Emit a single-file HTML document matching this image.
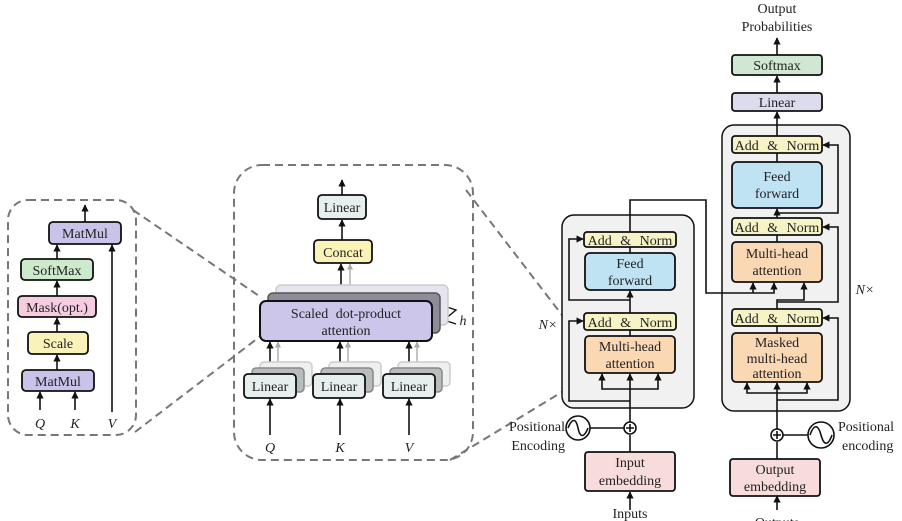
<!DOCTYPE html>
<html><head><meta charset="utf-8"><style>
html,body{margin:0;padding:0;background:#fff;width:902px;height:521px;overflow:hidden}
text{font-family:"Liberation Serif",serif;fill:#222}
.an{word-spacing:5px}
</style></head><body>
<svg width="902" height="521" viewBox="0 0 902 521" xmlns="http://www.w3.org/2000/svg">
<defs>
<marker id="a" viewBox="0 0 10 10" refX="9" refY="5" markerWidth="4.5" markerHeight="4.5" orient="auto"><path d="M0,0L10,5L0,10z" fill="#111"/></marker>
<marker id="g" viewBox="0 0 10 10" refX="9" refY="5" markerWidth="4.5" markerHeight="4.5" orient="auto"><path d="M0,0L10,5L0,10z" fill="#aaa"/></marker>
</defs>
<g fill="none" stroke="#777" stroke-width="2" stroke-dasharray="8,5">
<rect x="8" y="200" width="128" height="235" rx="20"/>
<rect x="234" y="165" width="239" height="295" rx="28"/>
<line x1="133" y1="210" x2="262" y2="298"/>
<line x1="135" y1="432" x2="262" y2="335"/>
<line x1="466" y1="190" x2="585" y2="345"/>
<line x1="450" y1="460" x2="585" y2="378"/>
</g>
<rect x="562" y="215" width="132" height="193" rx="12" fill="#f1f1f1" stroke="#111" stroke-width="1.5"/>
<rect x="722" y="125" width="128" height="286" rx="12" fill="#f1f1f1" stroke="#111" stroke-width="1.5"/>
<g stroke="#111" stroke-width="1.6" fill="none">
<line x1="85" y1="222" x2="85" y2="205" marker-end="url(#a)"/>
<line x1="57" y1="259" x2="57" y2="245" marker-end="url(#a)"/>
<line x1="57" y1="296" x2="57" y2="281" marker-end="url(#a)"/>
<line x1="57" y1="332" x2="57" y2="318" marker-end="url(#a)"/>
<line x1="57" y1="370" x2="57" y2="355" marker-end="url(#a)"/>
<line x1="40" y1="410" x2="40" y2="392" marker-end="url(#a)"/>
<line x1="75" y1="410" x2="75" y2="392" marker-end="url(#a)"/>
<line x1="112" y1="412" x2="112" y2="245" marker-end="url(#a)"/>
<line x1="342" y1="195" x2="342" y2="180" marker-end="url(#a)"/>
<line x1="342" y1="240" x2="342" y2="220" marker-end="url(#a)"/>
<line x1="341" y1="301" x2="341" y2="264" marker-end="url(#a)"/>
<line x1="270" y1="374" x2="270" y2="342" marker-end="url(#a)"/>
<line x1="340" y1="374" x2="340" y2="342" marker-end="url(#a)"/>
<line x1="409" y1="374" x2="409" y2="342" marker-end="url(#a)"/>
<line x1="270" y1="435" x2="270" y2="399" marker-end="url(#a)"/>
<line x1="340" y1="435" x2="340" y2="399" marker-end="url(#a)"/>
<line x1="409" y1="435" x2="409" y2="399" marker-end="url(#a)"/>
<path d="M432,302 L456,310 L444,320 L456,324 M444,320 L428,338" stroke-width="1.4"/>
</g>
<g stroke="#aaa" stroke-width="1.4" fill="none">
<line x1="350" y1="290" x2="350" y2="264" marker-end="url(#g)"/>
<line x1="278" y1="366" x2="278" y2="342" marker-end="url(#g)"/>
<line x1="348" y1="366" x2="348" y2="342" marker-end="url(#g)"/>
<line x1="417" y1="366" x2="417" y2="342" marker-end="url(#g)"/>
</g>
<rect x="276" y="285" width="172" height="40" rx="5" fill="#e6e4ee" stroke="#ccc" stroke-width="1.5"/>
<rect x="268" y="293" width="172" height="40" rx="5" fill="#8f8c9a" stroke="#555" stroke-width="1.5"/>
<rect x="260" y="301" width="172" height="40" rx="6" fill="#cbc6ea" stroke="#111" stroke-width="2"/>
<g fill="#eef0f0" stroke="#ccc" stroke-width="1.5">
<rect x="260" y="362" width="52" height="24" rx="4"/><rect x="329" y="362" width="52" height="24" rx="4"/><rect x="398" y="362" width="52" height="24" rx="4"/>
</g>
<g fill="#b8bcbc" stroke="#888" stroke-width="1.5">
<rect x="252" y="368" width="52" height="24" rx="4"/><rect x="321" y="368" width="52" height="24" rx="4"/><rect x="390" y="368" width="52" height="24" rx="4"/>
</g>
<g stroke-width="1.8" stroke="#111">
<rect x="244" y="374" width="52" height="24" rx="4" fill="#e6efee"/>
<rect x="313" y="374" width="52" height="24" rx="4" fill="#e6efee"/>
<rect x="383" y="374" width="52" height="24" rx="4" fill="#e6efee"/>
<rect x="318" y="195" width="48" height="24" rx="4" fill="#e6efee"/>
<rect x="314" y="240" width="58" height="23" rx="4" fill="#fbf2b8"/>
<rect x="49" y="222" width="72" height="22" rx="4" fill="#c9c3ea"/>
<rect x="21" y="259" width="72" height="21" rx="4" fill="#cdeacd"/>
<rect x="18" y="296" width="78" height="21" rx="4" fill="#f6cde0"/>
<rect x="28" y="332" width="60" height="22" rx="4" fill="#fbf2b8"/>
<rect x="22" y="370" width="72" height="21" rx="4" fill="#c9c3ea"/>
</g>
<g font-size="14" text-anchor="middle">
<text x="85" y="238">MatMul</text><text x="57" y="275">SoftMax</text><text x="57" y="312">Mask(opt.)</text>
<text x="58" y="348">Scale</text><text x="58" y="386">MatMul</text>
<text x="40" y="428" font-style="italic">Q</text><text x="75" y="428" font-style="italic">K</text><text x="112" y="428" font-style="italic">V</text>
<text x="342" y="212">Linear</text><text x="343" y="257">Concat</text>
<text x="346" y="318" style="word-spacing:4px">Scaled dot-product</text><text x="346" y="335">attention</text>
<text x="270" y="391">Linear</text><text x="339" y="391">Linear</text><text x="409" y="391">Linear</text>
<text x="270" y="452" font-style="italic">Q</text><text x="340" y="452" font-style="italic">K</text><text x="409" y="452" font-style="italic">V</text>
<text x="463" y="325" font-style="italic">h</text>
</g>
<g stroke="#111" stroke-width="1.6" fill="none">
<line x1="630" y1="452" x2="630" y2="435"/>
<line x1="630" y1="422" x2="630" y2="374" marker-end="url(#a)"/>
<path d="M630,389 H602 V374" marker-end="url(#a)"/>
<path d="M630,389 H658 V374" marker-end="url(#a)"/>
<path d="M630,401 H569 V321 H583" marker-end="url(#a)"/>
<line x1="630" y1="336" x2="630" y2="330"/>
<line x1="630" y1="313" x2="630" y2="291" marker-end="url(#a)"/>
<path d="M630,300 H569 V239 H583" marker-end="url(#a)"/>
<line x1="630" y1="253" x2="630" y2="247"/>
<path d="M630,232 V200 H706 V293 H774 V283" marker-end="url(#a)"/>
<path d="M753,293 V283" marker-end="url(#a)"/>
<line x1="590" y1="428" x2="624" y2="428"/>
<line x1="630" y1="510" x2="630" y2="492" marker-end="url(#a)"/>
<line x1="777" y1="510" x2="777" y2="496" marker-end="url(#a)"/>
<line x1="777" y1="459" x2="777" y2="442"/>
<line x1="777" y1="429" x2="777" y2="383" marker-end="url(#a)"/>
<path d="M777,393 H747 V383" marker-end="url(#a)"/>
<path d="M777,393 H807 V383" marker-end="url(#a)"/>
<path d="M777,400 H838 V318 H823" marker-end="url(#a)"/>
<line x1="777" y1="333" x2="777" y2="326"/>
<path d="M777,309 V300 H804 V283" marker-end="url(#a)"/>
<path d="M777,302 H838 V227 H823" marker-end="url(#a)"/>
<line x1="777" y1="242" x2="777" y2="235"/>
<line x1="777" y1="218" x2="777" y2="209" marker-end="url(#a)"/>
<path d="M777,213 H838 V145 H823" marker-end="url(#a)"/>
<line x1="777" y1="162" x2="777" y2="153"/>
<line x1="777" y1="136" x2="777" y2="112" marker-end="url(#a)"/>
<line x1="777" y1="93" x2="777" y2="76" marker-end="url(#a)"/>
<line x1="777" y1="55" x2="777" y2="38" marker-end="url(#a)"/>
<line x1="783" y1="435" x2="808" y2="435"/>
<circle cx="578" cy="428" r="12" fill="#fff"/>
<path d="M568,428 C572,418 576,418 578,428 C580,438 584,438 588,428"/>
<circle cx="821" cy="435" r="13" fill="#fff"/>
<path d="M810,435 C814,424 818,424 821,435 C824,446 828,446 832,435"/>
<circle cx="630" cy="428" r="6" fill="#fff"/>
<path d="M626,428 H634 M630,424 V432"/>
<circle cx="777" cy="435" r="6" fill="#fff"/>
<path d="M773,435 H781 M777,431 V439"/>
</g>
<g stroke="#111" stroke-width="1.8">
<rect x="584" y="232" width="92" height="15" rx="3" fill="#f6f4c6"/>
<rect x="585" y="253" width="90" height="37" rx="5" fill="#bfe3f3"/>
<rect x="584" y="313" width="92" height="17" rx="3" fill="#f6f4c6"/>
<rect x="585" y="336" width="90" height="37" rx="4" fill="#fbd8b4"/>
<rect x="585" y="452" width="90" height="39" rx="3" fill="#f8dcdc"/>
<rect x="732" y="55" width="90" height="20" rx="3" fill="#cfe7d3"/>
<rect x="732" y="93" width="90" height="18" rx="3" fill="#dcdcee"/>
<rect x="732" y="136" width="90" height="17" rx="3" fill="#f6f4c6"/>
<rect x="732" y="162" width="90" height="46" rx="5" fill="#bfe3f3"/>
<rect x="732" y="218" width="90" height="17" rx="3" fill="#f6f4c6"/>
<rect x="732" y="242" width="90" height="40" rx="4" fill="#fbd8b4"/>
<rect x="732" y="309" width="90" height="17" rx="3" fill="#f6f4c6"/>
<rect x="732" y="333" width="90" height="49" rx="4" fill="#fbd8b4"/>
<rect x="730" y="459" width="90" height="37" rx="3" fill="#f8dcdc"/>
</g>
<g font-size="14" text-anchor="middle">
<text x="630" y="245" class="an">Add &amp; Norm</text>
<text x="630" y="268">Feed</text><text x="630" y="285">forward</text>
<text x="630" y="327" class="an">Add &amp; Norm</text>
<text x="630" y="351">Multi-head</text><text x="630" y="368">attention</text>
<text x="630" y="467">Input</text><text x="630" y="485">embedding</text>
<text x="630" y="518">Inputs</text>
<text x="565" y="431" text-anchor="end">Positional</text><text x="565" y="450" text-anchor="end">Encoding</text>
<text x="548" y="329" font-style="italic" fill="#555">N×</text>
<text x="777" y="13">Output</text><text x="777" y="31">Probabilities</text>
<text x="777" y="70">Softmax</text><text x="777" y="107">Linear</text>
<text x="777" y="150" class="an">Add &amp; Norm</text>
<text x="777" y="181">Feed</text><text x="777" y="198">forward</text>
<text x="777" y="232" class="an">Add &amp; Norm</text>
<text x="777" y="258">Multi-head</text><text x="777" y="275">attention</text>
<text x="777" y="323" class="an">Add &amp; Norm</text>
<text x="777" y="347">Masked</text><text x="777" y="363">multi-head</text><text x="777" y="378">attention</text>
<text x="775" y="474">Output</text><text x="775" y="491">embedding</text>
<text x="838" y="431" text-anchor="start">Positional</text><text x="842" y="450" text-anchor="start">encoding</text>
<text x="865" y="294" font-style="italic" fill="#555">N×</text>
<text x="777" y="527">Outputs</text>
</g>
</svg>
</body></html>
